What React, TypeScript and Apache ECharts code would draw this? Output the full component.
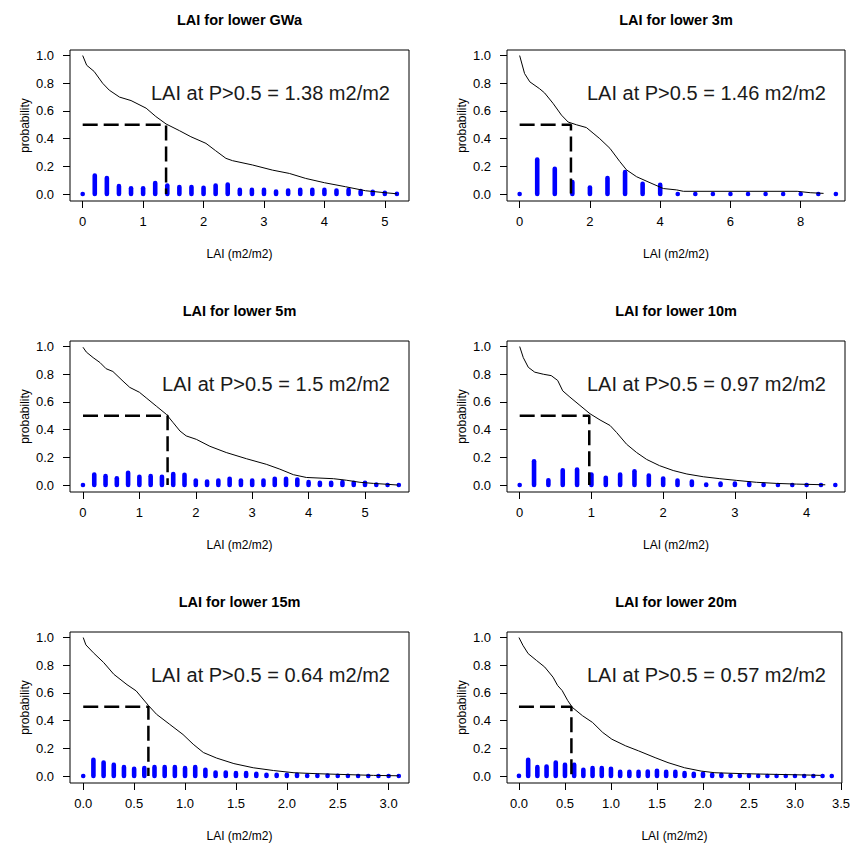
import React, { useEffect, useRef } from "react";
import * as echarts from "echarts";

const FONT = '"Liberation Sans", Arial, Helvetica, sans-serif';

// ---------- data ----------
const panelTitles = [
  "LAI for lower GWa",
  "LAI for lower 3m",
  "LAI for lower 5m",
  "LAI for lower 10m",
  "LAI for lower 15m",
  "LAI for lower 20m",
];
const laiAtHalf = [1.38, 1.46, 1.5, 0.97, 0.64, 0.57];
const laiAtHalfText = ["1.38", "1.46", "1.5", "0.97", "0.64", "0.57"];

const xTicksGWa = [0, 1, 2, 3, 4, 5];
const xTicks3m = [0, 2, 4, 6, 8];
const xTicks5m = [0, 1, 2, 3, 4, 5];
const xTicks10m = [0, 1, 2, 3, 4];
const xTicks15m = [0, 0.5, 1, 1.5, 2, 2.5, 3];
const xTicks20m = [0, 0.5, 1, 1.5, 2, 2.5, 3, 3.5];
const yTicks = [0, 0.2, 0.4, 0.6, 0.8, 1.0];

const barsGWa = [
  [0, 0], [0.2, 0.135], [0.4, 0.116], [0.6, 0.058], [0.8, 0.043], [1.0, 0.043],
  [1.2, 0.08], [1.4, 0.063], [1.6, 0.051], [1.8, 0.051], [2.0, 0.046], [2.2, 0.063],
  [2.4, 0.07], [2.6, 0.031], [2.8, 0.031], [3.0, 0.031], [3.2, 0.019], [3.4, 0.026],
  [3.6, 0.031], [3.8, 0.031], [4.0, 0.031], [4.2, 0.026], [4.4, 0.031], [4.6, 0.022],
  [4.8, 0.017], [5.0, 0.01], [5.2, 0.002],
];
const curveGWa = [
  [0, 1.0], [0.066, 0.93], [0.19, 0.885], [0.33, 0.8], [0.44, 0.75], [0.61, 0.7],
  [0.8, 0.675], [1.05, 0.62], [1.21, 0.56], [1.38, 0.506], [1.6, 0.458], [1.79, 0.414],
  [2.04, 0.366], [2.2, 0.313], [2.37, 0.258], [2.48, 0.241], [2.81, 0.21], [3.14, 0.173],
  [3.42, 0.149], [3.69, 0.113], [4.0, 0.082], [4.35, 0.053], [4.68, 0.024], [5.0, 0.01],
  [5.2, 0.002],
];

const bars3m = [
  [0, 0], [0.5, 0.25], [1.0, 0.183], [1.5, 0.087], [2.0, 0.048], [2.5, 0.116],
  [3.0, 0.159], [3.5, 0.075], [4.0, 0.067], [4.5, 0], [5.0, 0], [5.5, 0], [6.0, 0],
  [6.5, 0], [7.0, 0], [7.5, 0], [8.0, 0], [8.5, 0], [9.0, 0],
];
const curve3m = [
  [0, 1.0], [0.14, 0.87], [0.29, 0.81], [0.57, 0.76], [0.71, 0.73], [0.95, 0.655],
  [1.19, 0.57], [1.38, 0.52], [1.62, 0.5], [1.9, 0.48], [2.09, 0.44], [2.28, 0.4],
  [2.57, 0.33], [2.85, 0.235], [3.04, 0.175], [3.33, 0.125], [3.71, 0.082], [4.09, 0.04],
  [4.47, 0.03], [4.66, 0.02], [7.9, 0.02], [8.27, 0.01], [8.65, 0.005],
];

const bars5m = [
  [0, 0], [0.2, 0.077], [0.4, 0.065], [0.6, 0.05], [0.8, 0.089], [1.0, 0.06],
  [1.2, 0.065], [1.4, 0.06], [1.6, 0.08], [1.8, 0.075], [2.0, 0.034], [2.2, 0.027],
  [2.4, 0.034], [2.6, 0.046], [2.8, 0.034], [3.0, 0.034], [3.2, 0.034], [3.4, 0.046],
  [3.6, 0.046], [3.8, 0.041], [4.0, 0.022], [4.2, 0.017], [4.4, 0.017], [4.6, 0.022],
  [4.8, 0.017], [5.0, 0.017], [5.2, 0.005], [5.4, 0], [5.6, 0],
];
const curve5m = [
  [0, 0.995], [0.06, 0.96], [0.18, 0.92], [0.3, 0.885], [0.41, 0.84], [0.53, 0.82],
  [0.71, 0.75], [0.83, 0.705], [1.0, 0.67], [1.12, 0.63], [1.3, 0.57], [1.48, 0.51],
  [1.6, 0.45], [1.72, 0.39], [1.83, 0.355], [2.01, 0.33], [2.25, 0.28], [2.54, 0.235],
  [2.9, 0.19], [3.25, 0.15], [3.49, 0.115], [3.73, 0.075], [3.96, 0.055], [4.44, 0.046],
  [4.67, 0.035], [4.91, 0.02], [5.15, 0.012], [5.38, 0.006], [5.59, 0.0],
];

const bars10m = [
  [0, 0], [0.2, 0.173], [0.4, 0.036], [0.6, 0.108], [0.8, 0.113], [1.0, 0.077],
  [1.2, 0.053], [1.4, 0.077], [1.6, 0.1], [1.8, 0.07], [2.0, 0.048], [2.2, 0.034],
  [2.4, 0.027], [2.6, 0.005], [2.8, 0.012], [3.0, 0.012], [3.2, 0.012], [3.4, 0.005],
  [3.6, 0], [3.8, 0], [4.0, 0], [4.2, 0], [4.4, 0],
];
const curve10m = [
  [0, 1.0], [0.05, 0.92], [0.12, 0.85], [0.21, 0.815], [0.33, 0.8], [0.44, 0.79],
  [0.53, 0.755], [0.6, 0.68], [0.7, 0.635], [0.84, 0.575], [0.98, 0.515], [1.12, 0.47],
  [1.26, 0.43], [1.35, 0.38], [1.49, 0.295], [1.63, 0.235], [1.77, 0.185], [1.95, 0.14],
  [2.14, 0.105], [2.33, 0.08], [2.56, 0.06], [2.79, 0.046], [3.02, 0.034], [3.3, 0.02],
  [3.58, 0.012], [3.86, 0.007], [4.26, 0.002],
];

const bars15m = [
  [0, 0], [0.1, 0.118], [0.2, 0.099], [0.3, 0.082], [0.4, 0.065], [0.5, 0.053],
  [0.6, 0.058], [0.7, 0.065], [0.8, 0.065], [0.9, 0.065], [1.0, 0.058], [1.1, 0.065],
  [1.2, 0.046], [1.3, 0.027], [1.4, 0.027], [1.5, 0.022], [1.6, 0.022], [1.7, 0.017],
  [1.8, 0.01], [1.9, 0.01], [2.0, 0.01], [2.1, 0.01], [2.2, 0.005], [2.3, 0.005],
  [2.4, 0.005], [2.5, 0.002], [2.6, 0.002], [2.7, 0], [2.8, 0], [2.9, 0], [3.0, 0], [3.1, 0],
];
const curve15m = [
  [0, 1.0], [0.026, 0.947], [0.1, 0.89], [0.2, 0.82], [0.3, 0.735], [0.43, 0.66],
  [0.52, 0.615], [0.64, 0.51], [0.72, 0.446], [0.85, 0.373], [0.98, 0.3], [1.08, 0.23],
  [1.18, 0.17], [1.31, 0.13], [1.48, 0.09], [1.67, 0.06], [1.87, 0.04], [2.07, 0.024],
  [2.3, 0.017], [2.62, 0.01], [2.85, 0.005], [3.1, 0.002],
];

const bars20m = [
  [0, 0.003], [0.1, 0.119], [0.2, 0.065], [0.3, 0.07], [0.4, 0.099], [0.5, 0.082],
  [0.6, 0.082], [0.7, 0.046], [0.8, 0.058], [0.9, 0.058], [1.0, 0.053], [1.1, 0.031],
  [1.2, 0.031], [1.3, 0.031], [1.4, 0.034], [1.5, 0.039], [1.6, 0.031], [1.7, 0.031],
  [1.8, 0.022], [1.9, 0.017], [2.0, 0.017], [2.1, 0.01], [2.2, 0.01], [2.3, 0.005],
  [2.4, 0.005], [2.5, 0.005], [2.6, 0], [2.7, 0], [2.8, 0], [2.9, 0], [3.0, 0], [3.1, 0],
  [3.2, 0], [3.3, 0], [3.4, 0],
];
const curve20m = [
  [0, 1.0], [0.043, 0.944], [0.1, 0.884], [0.19, 0.835], [0.28, 0.787], [0.37, 0.714],
  [0.42, 0.654], [0.47, 0.617], [0.53, 0.545], [0.58, 0.496], [0.69, 0.436], [0.8, 0.387],
  [0.91, 0.315], [1.01, 0.266], [1.16, 0.218], [1.3, 0.182], [1.48, 0.133], [1.62, 0.097],
  [1.8, 0.06], [1.98, 0.036], [2.13, 0.024], [2.45, 0.017], [2.81, 0.012], [3.17, 0.007],
  [3.28, 0.005],
];

const xRanges = [
  [-0.21, 5.4],
  [-0.36, 9.26],
  [-0.23, 5.78],
  [-0.177, 4.535],
  [-0.13, 3.2],
  [-0.13, 3.51],
];

// ---------- layout ----------
const colLeft = [70, 507];
const colWidth = [339, 338];
const rowTop = [50, 341, 632];
const plotH = 151;

function buildOption() {
  const bars = [barsGWa, bars3m, bars5m, bars10m, bars15m, bars20m];
  const curves = [curveGWa, curve3m, curve5m, curve10m, curve15m, curve20m];
  const xTicks = [xTicksGWa, xTicks3m, xTicks5m, xTicks10m, xTicks15m, xTicks20m];
  const decimals = [0, 0, 0, 0, 1, 1];

  const grid: any[] = [];
  const xAxis: any[] = [];
  const yAxis: any[] = [];
  const series: any[] = [];
  const graphic: any[] = [];

  for (let i = 0; i < 6; i++) {
    const col = i % 2;
    const row = Math.floor(i / 2);
    const left = colLeft[col];
    const width = colWidth[col];
    const top = rowTop[row];
    grid.push({
      left,
      top,
      width,
      height: plotH,
      show: true,
      borderColor: "#000",
      borderWidth: 1,
      backgroundColor: "transparent",
    });
    const dec = decimals[i];
    xAxis.push({
      gridIndex: i,
      type: "value",
      position: "bottom",
      min: xRanges[i][0],
      max: xRanges[i][1],
      axisLine: { show: false, onZero: false },
      axisTick: {
        show: true,
        length: 7,
        inside: false,
        lineStyle: { color: "#000", width: 1 },
        customValues: xTicks[i],
      },
      axisLabel: {
        customValues: xTicks[i],
        formatter: (v: number) => v.toFixed(dec),
        color: "#000",
        fontSize: 13,
        fontFamily: FONT,
        margin: 14,
      },
      splitLine: { show: false },
      name: "LAI (m2/m2)",
      nameLocation: "middle",
      nameGap: 47,
      nameTextStyle: { fontSize: 12, color: "#000", fontFamily: FONT },
    });
    yAxis.push({
      gridIndex: i,
      type: "value",
      position: "left",
      min: -0.05,
      max: 1.04,
      axisLine: { show: false, onZero: false },
      axisTick: {
        show: true,
        length: 7,
        inside: false,
        lineStyle: { color: "#000", width: 1 },
        customValues: yTicks,
      },
      axisLabel: {
        customValues: yTicks,
        formatter: (v: number) => v.toFixed(1),
        color: "#000",
        fontSize: 13,
        fontFamily: FONT,
        margin: 16,
      },
      splitLine: { show: false },
      name: "probability",
      nameLocation: "middle",
      nameGap: 39,
      nameRotate: 90,
      nameTextStyle: { fontSize: 12, color: "#000", fontFamily: FONT },
    });

    series.push({
      type: "custom",
      xAxisIndex: i,
      yAxisIndex: i,
      data: bars[i],
      encode: { x: 0, y: 1 },
      z: 2,
      renderItem: (_params: any, api: any) => {
        const x = api.value(0);
        const y = api.value(1);
        const p0 = api.coord([x, 0]);
        const p1 = api.coord([x, y]);
        const w = 4.6;
        const yTop = p1[1] - 2.2;
        const yBot = p0[1] + 2.2;
        return {
          type: "rect",
          shape: { x: p0[0] - w / 2, y: yTop, width: w, height: yBot - yTop, r: w / 2 },
          style: { fill: "#0000ff" },
        };
      },
    });
    series.push({
      type: "line",
      xAxisIndex: i,
      yAxisIndex: i,
      data: curves[i],
      symbol: "none",
      showSymbol: false,
      lineStyle: { color: "#000", width: 1 },
      z: 3,
    });
    const v = laiAtHalf[i];
    series.push({
      type: "line",
      xAxisIndex: i,
      yAxisIndex: i,
      data: [
        [0, 0.5],
        [v, 0.5],
        [v, 0],
      ],
      symbol: "none",
      showSymbol: false,
      lineStyle: { color: "#000", width: 2.5, type: [15, 6] },
      z: 4,
    });

    graphic.push({
      type: "text",
      x: left + width / 2,
      y: top - 30,
      style: {
        text: panelTitles[i],
        font: `bold 14.5px ${FONT}`,
        fill: "#000",
        align: "center",
        verticalAlign: "middle",
      },
    });
    graphic.push({
      type: "text",
      x: left + width - 19,
      y: top + 43,
      style: {
        text: `LAI at P>0.5 = ${laiAtHalfText[i]} m2/m2`,
        font: `20px ${FONT}`,
        fill: "#1a1a1a",
        align: "right",
        verticalAlign: "middle",
      },
    });
  }

  return {
    animation: false,
    backgroundColor: "#ffffff",
    grid,
    xAxis,
    yAxis,
    series,
    graphic,
  };
}

export default function App() {
  const ref = useRef<HTMLDivElement>(null);
  useEffect(() => {
    if (!ref.current) return;
    const chart = echarts.init(ref.current, null, { renderer: "svg" });
    chart.setOption(buildOption() as any);
    return () => {
      chart.dispose();
    };
  }, []);
  return (
    <div
      ref={ref}
      style={{ position: "absolute", left: 0, top: 0, width: 853, height: 845, background: "#fff" }}
    />
  );
}
